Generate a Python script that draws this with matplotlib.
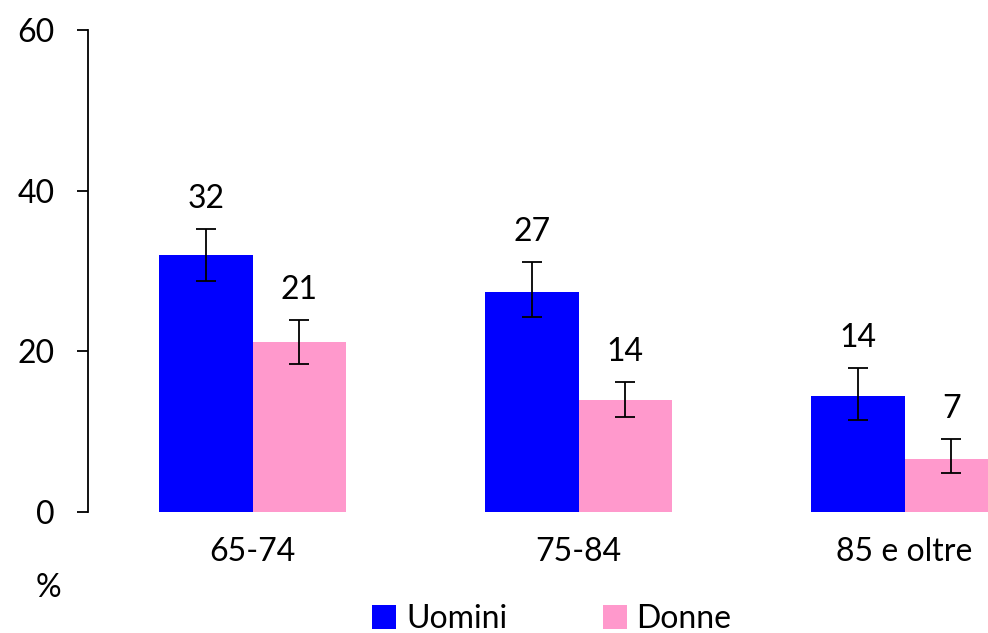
import matplotlib
matplotlib.use("Agg")
import matplotlib.pyplot as plt
import numpy as np
from matplotlib.patches import Patch

categories = ["65-74", "75-84", "85 e oltre"]
series_names = ["Uomini", "Donne"]
uomini = [32, 27, 14]
donne = [21, 14, 7]
uomini_vals = [32.0, 27.4, 14.4]
donne_vals = [21.1, 13.9, 6.6]
uomini_lo = [28.8, 24.3, 11.5]
uomini_hi = [35.2, 31.1, 17.9]
donne_lo = [18.4, 11.8, 4.9]
donne_hi = [23.9, 16.2, 9.1]
yticks = [0, 20, 40, 60]

plt.rcParams['font.family'] = ['Lato', 'DejaVu Sans']
FS = 23

fig = plt.figure(figsize=(9.88, 6.33), dpi=100)
ax = fig.add_axes([88/988, 121/633, 978/988, 482/633])

x = np.arange(len(categories))
w = 0.286
blue = "#0000FF"
pink = "#FF99CC"

def draw(offset, vals, lo, hi, labels, color):
    xs = x + offset
    ax.bar(xs, vals, width=w, color=color, edgecolor="none", zorder=2)
    yerr = [np.array(vals) - np.array(lo), np.array(hi) - np.array(vals)]
    ax.errorbar(xs, vals, yerr=yerr, fmt="none", ecolor="black",
                elinewidth=1.3, capsize=7, capthick=1.3, zorder=3)
    for xi, h, lab in zip(xs, hi, labels):
        ax.annotate(str(lab), (xi, h), xytext=(0, 11), textcoords="offset points",
                    ha="center", va="bottom", fontsize=FS)

draw(-w/2, uomini_vals, uomini_lo, uomini_hi, uomini, blue)
draw(w/2, donne_vals, donne_lo, donne_hi, donne, pink)

ax.set_xlim(-0.505, 2.495)
ax.set_ylim(0, 60)
ax.set_yticks(yticks)
ax.set_yticklabels([str(t) for t in yticks], fontsize=FS)
ax.set_xticks(x)
ax.set_xticklabels(categories, fontsize=FS)
ax.tick_params(axis="x", length=0, pad=18)
ax.tick_params(axis="y", length=8, width=1.3, pad=16, direction="out")
for s in ["top", "right", "bottom"]:
    ax.spines[s].set_visible(False)
ax.spines["left"].set_linewidth(1.3)

fig.text(48/988, 1 - 588/633, "%", fontsize=FS, ha="center", va="center")

handles = [Patch(facecolor=blue, edgecolor="none"), Patch(facecolor=pink, edgecolor="none")]
fig.legend(handles, series_names, loc="center", bbox_to_anchor=(552/988, 1 - 619/633),
           ncol=2, frameon=False, fontsize=FS, handlelength=0.75, handleheight=0.75,
           handletextpad=0.3, columnspacing=3.0, borderpad=0)

fig.savefig("out.png", dpi=100)
